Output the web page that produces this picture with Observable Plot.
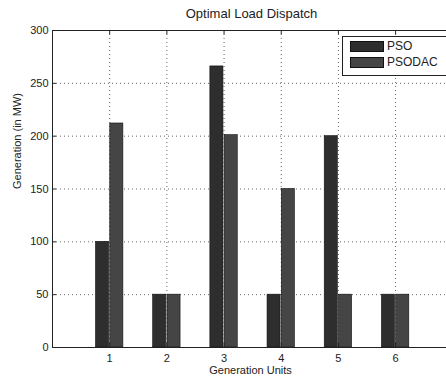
<!DOCTYPE html>
<html>
<head>
<meta charset="utf-8">
<script src="https://cdn.jsdelivr.net/npm/d3@7"></script>
<script src="https://cdn.jsdelivr.net/npm/@observablehq/plot@0.6"></script>
<style>
  html, body { margin: 0; padding: 0; background: #fff; }
  #wrap { position: relative; width: 446px; height: 380px; overflow: hidden; font-family: "Liberation Sans", Arial, sans-serif; }
  #wrap svg text { font-family: "Liberation Sans", Arial, sans-serif; }
  #legend { position: absolute; left: 342px; top: 36px; width: 120px; height: 38px; border: 1px solid #222; background: #fff; }
  .item { position: absolute; left: 7px; height: 11px; font-size: 12px; color: #222; line-height: 11px; }
  .sw { display: inline-block; width: 34px; height: 11px; border: 1px solid #111; box-sizing: border-box; vertical-align: top; margin-right: 3px; }
</style>
</head>
<body>
<div id="wrap"></div>
<script>
const units = [1, 2, 3, 4, 5, 6];
const pso = [100, 50, 266, 50, 200, 50];
const psodac = [212, 50, 201, 150, 50, 50];
const series = ["PSO", "PSODAC"];
const colors = ["#2e2e2e", "#454545"];
const yTicks = [0, 50, 100, 150, 200, 250, 300];
const title = "Optimal Load Dispatch";
const xLabel = "Generation Units";
const yLabel = "Generation (in MW)";

const data = units.flatMap((u, i) => [
  {unit: u, series: series[0], value: pso[i]},
  {unit: u, series: series[1], value: psodac[i]}
]);

const grid = {stroke: "#666", strokeDasharray: "1,3", strokeWidth: 1};

const chart = Plot.plot({
  width: 446,
  height: 380,
  marginLeft: 52,
  marginRight: 0,
  marginTop: 30,
  marginBottom: 33,
  style: {fontFamily: "'Liberation Sans', Arial, sans-serif", fontSize: "11px", color: "#222", background: "#fff"},
  x: {domain: [0, 6.89], label: null},
  y: {domain: [0, 300], label: null},
  color: {domain: series, range: colors},
  marks: [
    Plot.ruleY(yTicks.filter(t => t > 0 && t < 300), grid),
    Plot.ruleX(units, grid),
    Plot.rectY(data, {
      x1: d => d.series === series[0] ? d.unit - 0.25 : d.unit,
      x2: d => d.series === series[0] ? d.unit : d.unit + 0.25,
      y1: 0,
      y2: "value",
      fill: "series",
      stroke: "#111",
      strokeWidth: 0.6,
      insetLeft: 0.6,
      insetRight: 0.6
    }),
    Plot.ruleY(yTicks, {x1: 0, x2: 0.07, stroke: "#222"}),
    Plot.ruleX(units, {y1: 0, y2: 4, stroke: "#222"}),
    Plot.ruleX(units, {y1: 296, y2: 300, stroke: "#222"}),
    Plot.ruleX([0], {stroke: "#222"}),
    Plot.ruleY([0], {stroke: "#222"}),
    Plot.ruleY([300], {stroke: "#222"}),
    Plot.axisX(units, {tickSize: 0, tickPadding: 7, fill: "#222", tickFormat: d => String(d), label: null}),
    Plot.axisY(yTicks, {tickSize: 0, tickPadding: 4, fill: "#222", label: null}),
    Plot.text([title], {frameAnchor: "top", dy: -22, dx: 2, fontSize: 13, fill: "#222"}),
    Plot.text([xLabel], {frameAnchor: "bottom", dy: 26, dx: 1, fontSize: 11, fill: "#222"}),
    Plot.text([yLabel], {frameAnchor: "left", dx: -35, rotate: -90, fontSize: 11, fill: "#222"})
  ]
});

const wrap = document.getElementById("wrap");
wrap.appendChild(chart);
const legend = document.createElement("div");
legend.id = "legend";
series.forEach((s, i) => {
  const it = document.createElement("div");
  it.className = "item";
  it.style.top = (4 + i * 16) + "px";
  const sw = document.createElement("span");
  sw.className = "sw";
  sw.style.background = colors[i];
  it.appendChild(sw);
  it.appendChild(document.createTextNode(s));
  legend.appendChild(it);
});
wrap.appendChild(legend);
</script>
</body>
</html>
